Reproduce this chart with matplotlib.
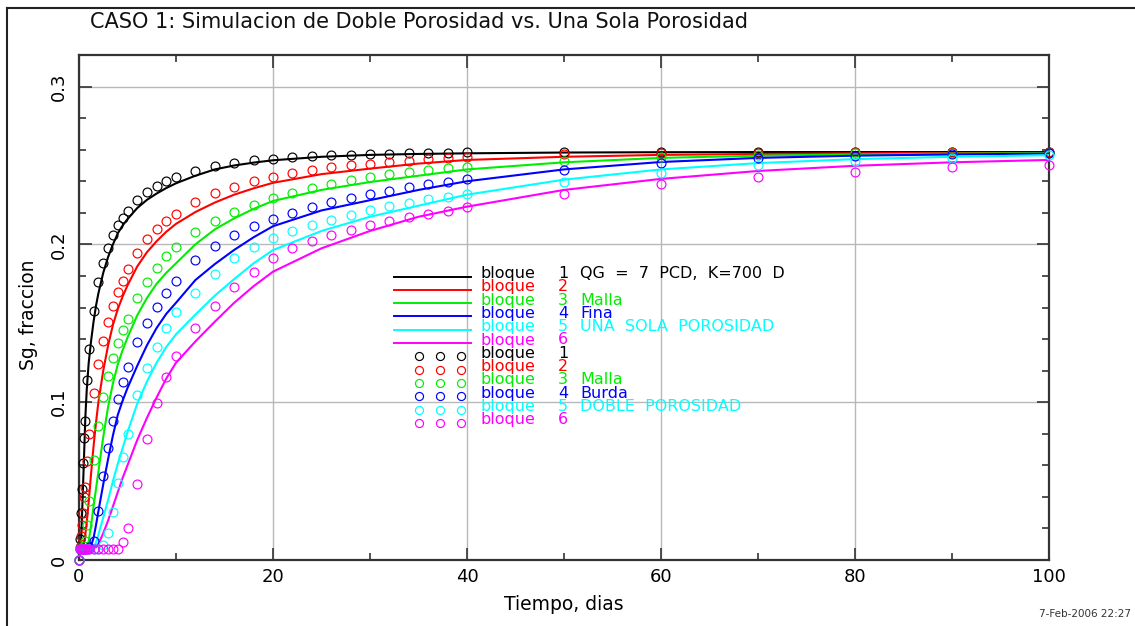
import matplotlib
matplotlib.use('Agg')
import matplotlib.pyplot as plt
from matplotlib.ticker import MultipleLocator, FuncFormatter
from matplotlib.lines import Line2D

# ---------------- data ----------------
title = "CASO 1: Simulacion de Doble Porosidad vs. Una Sola Porosidad"
xlabel = "Tiempo, dias"
ylabel = "Sg, fraccion"
stamp = "7-Feb-2006 22:27"

colors = ['#000000', '#ff0000', '#00ee00', '#0000ff', '#00ffff', '#ff00ff']

# single porosity (solid lines)
t_line = [0, 0.2, 0.35, 0.5, 0.65, 0.8, 1, 1.25, 1.5, 1.75, 2, 2.5, 3, 3.5, 4, 4.5, 5,
          6, 7, 8, 9, 10, 12, 14, 16, 18, 20, 25, 30, 35, 40, 50, 60, 70, 80, 90, 100]
sp_b1 = [0.007, 0.009, 0.035, 0.062, 0.090, 0.108, 0.125, 0.139, 0.151, 0.161, 0.169,
         0.182, 0.192, 0.200, 0.207, 0.212, 0.216, 0.2230, 0.2282, 0.2322, 0.2357, 0.2387,
         0.2435, 0.2475, 0.2500, 0.2518, 0.2533, 0.2555, 0.2567, 0.2573, 0.2577, 0.2582,
         0.2584, 0.2585, 0.2585, 0.2585, 0.2585]
sp_b2 = [0.007, 0.007, 0.007, 0.010, 0.016, 0.024, 0.037, 0.055, 0.072, 0.087, 0.100,
         0.120, 0.136, 0.149, 0.159, 0.167, 0.174, 0.186, 0.195, 0.202, 0.208, 0.213,
         0.2205, 0.2265, 0.2315, 0.2355, 0.2390, 0.2445, 0.2480, 0.2512, 0.2535, 0.2555,
         0.2567, 0.2573, 0.2577, 0.2579, 0.2580]
sp_b3 = [0.007, 0.007, 0.007, 0.007, 0.007, 0.008, 0.012, 0.022, 0.034, 0.045, 0.056,
         0.078, 0.097, 0.112, 0.124, 0.133, 0.141, 0.155, 0.166, 0.175, 0.182, 0.188,
         0.200, 0.2095, 0.2165, 0.2225, 0.2275, 0.2345, 0.2395, 0.2435, 0.2475, 0.2520,
         0.2548, 0.2562, 0.2570, 0.2575, 0.2578]
sp_b4 = [0.008, 0.008, 0.008, 0.008, 0.008, 0.008, 0.008, 0.009, 0.014, 0.022, 0.031,
         0.048, 0.064, 0.079, 0.092, 0.101, 0.109, 0.123, 0.136, 0.147, 0.156, 0.163,
         0.1774, 0.1875, 0.1965, 0.2045, 0.2115, 0.2215, 0.2280, 0.2345, 0.2400, 0.2475,
         0.2522, 0.2548, 0.2562, 0.2570, 0.2575]
sp_b5 = [0.008, 0.008, 0.008, 0.008, 0.008, 0.008, 0.008, 0.008, 0.008, 0.011, 0.016,
         0.027, 0.038, 0.050, 0.061, 0.071, 0.081, 0.099, 0.113, 0.125, 0.135, 0.143,
         0.1555, 0.1675, 0.178, 0.188, 0.1964, 0.2085, 0.2175, 0.2245, 0.2315, 0.241,
         0.2475, 0.2515, 0.254, 0.2555, 0.2565]
sp_b6 = [0.008, 0.008, 0.008, 0.008, 0.008, 0.008, 0.008, 0.008, 0.008, 0.008, 0.010,
         0.017, 0.025, 0.034, 0.043, 0.052, 0.060, 0.076, 0.090, 0.103, 0.115, 0.125,
         0.1385, 0.151, 0.163, 0.1735, 0.1827, 0.1975, 0.2085, 0.2175, 0.2239, 0.2345,
         0.2415, 0.2465, 0.2498, 0.2520, 0.2535]

# dual porosity (circles)
t_dp = [0, 0.1, 0.2, 0.3, 0.4, 0.5, 0.6, 0.8, 1, 1.5, 2, 2.5, 3, 3.5, 4, 4.5, 5,
        6, 7, 8, 9, 10, 12, 14, 16, 18, 20, 22, 24, 26, 28, 30, 32, 34, 36, 38, 40,
        50, 60, 70, 80, 90, 100]
dp_b1 = [0, 0.013, 0.030, 0.045, 0.0615, 0.077, 0.088, 0.114, 0.1335, 0.158, 0.176,
         0.188, 0.198, 0.206, 0.212, 0.217, 0.221, 0.228, 0.233, 0.237, 0.240, 0.2429,
         0.2465, 0.2499, 0.2518, 0.2533, 0.2543, 0.2551, 0.2560, 0.2565, 0.2569, 0.2571,
         0.2574, 0.2577, 0.2579, 0.2581, 0.2584, 0.2586, 0.2587, 0.2587, 0.2587, 0.2587,
         0.2587]
dp_b2 = [0, 0.008, 0.015, 0.022, 0.030, 0.040, 0.046, 0.063, 0.080, 0.1056, 0.124,
         0.139, 0.151, 0.161, 0.1696, 0.177, 0.1842, 0.1948, 0.2032, 0.2095, 0.2148,
         0.2193, 0.2269, 0.2324, 0.2366, 0.2403, 0.2429, 0.2455, 0.2472, 0.2488, 0.2501,
         0.2511, 0.2519, 0.2530, 0.2539, 0.2546, 0.2556, 0.2575, 0.2580, 0.2582, 0.2583,
         0.2583, 0.2583]
dp_b3 = [0, 0.007, 0.007, 0.007, 0.007, 0.009, 0.012, 0.022, 0.0374, 0.0634, 0.085,
         0.103, 0.1166, 0.1278, 0.1377, 0.1458, 0.1527, 0.1658, 0.1762, 0.1852, 0.1926,
         0.1986, 0.2081, 0.2150, 0.2205, 0.2252, 0.2292, 0.2326, 0.2355, 0.2383, 0.2406,
         0.2425, 0.2443, 0.2459, 0.2471, 0.2482, 0.2492, 0.2529, 0.2555, 0.2568, 0.2576,
         0.2580, 0.2582]
dp_b4 = [0, 0.007, 0.007, 0.007, 0.007, 0.007, 0.007, 0.007, 0.008, 0.012, 0.031,
         0.053, 0.071, 0.088, 0.102, 0.113, 0.1225, 0.138, 0.150, 0.1605, 0.169, 0.177,
         0.1901, 0.1992, 0.2060, 0.2114, 0.2160, 0.2201, 0.2235, 0.2267, 0.2292, 0.2319,
         0.2340, 0.2362, 0.2381, 0.2397, 0.2414, 0.2471, 0.2516, 0.2545, 0.2560, 0.2570,
         0.2578]
dp_b5 = [0, 0.007, 0.007, 0.007, 0.007, 0.007, 0.007, 0.007, 0.007, 0.007, 0.007,
         0.0095, 0.0173, 0.0306, 0.0486, 0.065, 0.080, 0.1046, 0.1215, 0.135, 0.147,
         0.157, 0.1694, 0.1812, 0.1916, 0.1986, 0.2041, 0.2085, 0.2123, 0.2157, 0.2189,
         0.2216, 0.2241, 0.2264, 0.2286, 0.2302, 0.2319, 0.2395, 0.2455, 0.2500, 0.2530,
         0.2550, 0.2565]
dp_b6 = [0, 0.007, 0.007, 0.007, 0.007, 0.007, 0.007, 0.007, 0.007, 0.007, 0.007,
         0.007, 0.007, 0.007, 0.007, 0.0112, 0.020, 0.048, 0.0767, 0.0997, 0.1158, 0.129,
         0.1468, 0.1610, 0.1732, 0.1827, 0.1912, 0.1975, 0.2023, 0.2060, 0.2093, 0.2120,
         0.2145, 0.2172, 0.2193, 0.2212, 0.2235, 0.2317, 0.2383, 0.2427, 0.2459, 0.2490,
         0.2503]

sp_series = [sp_b1, sp_b2, sp_b3, sp_b4, sp_b5, sp_b6]
dp_series = [dp_b1, dp_b2, dp_b3, dp_b4, dp_b5, dp_b6]

legend_words = ["bloque"] * 12
legend_nums = ["1", "2", "3", "4", "5", "6", "1", "2", "3", "4", "5", "6"]
legend_extra = ["QG  =  7  PCD,  K=700  D", "", "Malla", "Fina", "UNA  SOLA  POROSIDAD", "",
                "", "", "Malla", "Burda", "DOBLE  POROSIDAD", ""]

# ---------------- figure ----------------
W, H = 1135, 626
fig = plt.figure(figsize=(W / 100, H / 100), dpi=100)
fig.patch.set_facecolor('white')


def fx(px):
    return px / W


def fy(py):
    return 1 - py / H


ax = fig.add_axes([fx(79), fy(560), fx(1049) - fx(79), fy(55) - fy(560)])
ax.set_xlim(0, 100)
ax.set_ylim(0, 0.32)

for c, y in zip(colors, sp_series):
    ax.plot(t_line, y, color=c, lw=1.5, zorder=3)
for c, y in zip(colors, dp_series):
    ax.plot(t_dp, y, 'o', mfc='none', mec=c, ms=6.4, mew=0.85, zorder=4, clip_on=False)

ax.grid(True, which='major', color='#b8b8b8', lw=1.0)
ax.set_axisbelow(True)
ax.xaxis.set_major_locator(MultipleLocator(20))
ax.xaxis.set_minor_locator(MultipleLocator(10))
ax.yaxis.set_major_locator(MultipleLocator(0.1))
ax.yaxis.set_minor_locator(MultipleLocator(0.02))
ax.yaxis.set_major_formatter(FuncFormatter(lambda v, p: '0' if abs(v) < 1e-9 else f'{v:.1f}'))
ax.tick_params(which='both', direction='in', top=True, right=True, color='#333333', width=1.2)
ax.tick_params(which='major', length=9)
ax.tick_params(which='minor', length=5)
ax.tick_params(axis='x', labelsize=13, pad=6)
ax.tick_params(axis='y', labelsize=13, pad=8, labelrotation=90)
for lab in ax.get_yticklabels():
    lab.set_va('center')
for s in ax.spines.values():
    s.set_color('#333333')
    s.set_linewidth(1.6)

# labels / title
fig.text(fx(90), fy(22), title, fontsize=15, ha='left', va='center', color='#111111')
fig.text(fx(564), fy(605), xlabel, fontsize=13.5, ha='center', va='center')
fig.text(fx(28), fy(315), ylabel, fontsize=13.5, ha='center', va='center', rotation=90)
fig.text(fx(1131), fy(614), stamp, fontsize=7.5, ha='right', va='center', color='#333333')

# outer frame (screen border)
fig.add_artist(Line2D([fx(7), fx(7)], [fy(8), 0], color='#222222', lw=1.5))
fig.add_artist(Line2D([fx(7), 1], [fy(8), fy(8)], color='#222222', lw=1.5))

# custom legend
row0, dy = 276.5, 13.3
for i in range(12):
    c = colors[i % 6]
    py = row0 + dy * i
    if i < 6:
        fig.add_artist(Line2D([fx(394), fx(471)], [fy(py), fy(py)], color=c, lw=1.4))
    else:
        for cx in (419, 440, 461):
            fig.add_artist(Line2D([fx(cx)], [fy(py)], marker='o', mfc='none', mec=c,
                                  ms=5.8, mew=0.85))
    fs = 11.5
    fig.text(fx(481), fy(py + 1.5), legend_words[i], fontsize=fs, color=c, va='baseline', ha='left')
    fig.text(fx(558), fy(py + 1.5), legend_nums[i], fontsize=fs, color=c, va='baseline', ha='left')
    if legend_extra[i]:
        fig.text(fx(580), fy(py + 1.5), legend_extra[i], fontsize=fs, color=c, va='baseline', ha='left')

fig.savefig('out.png', dpi=100, facecolor='white')
